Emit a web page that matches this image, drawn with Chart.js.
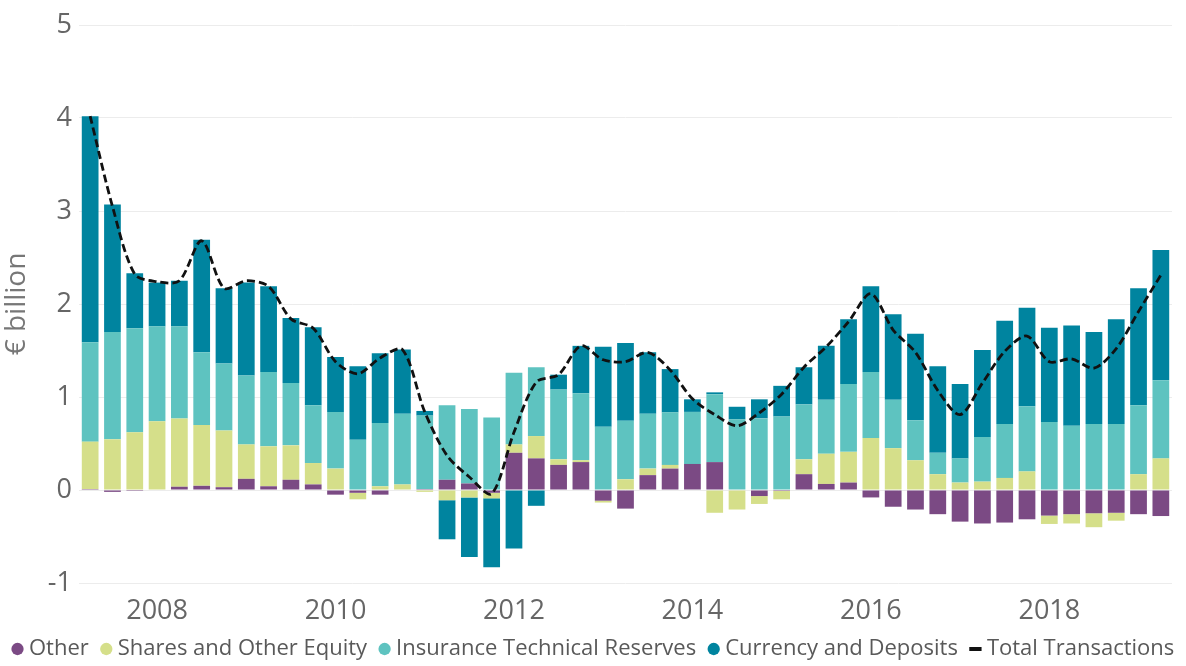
<!DOCTYPE html>
<html>
<head>
  <title>Household Financial Transactions</title>
  <script src="https://cdn.jsdelivr.net/npm/chart.js"></script>
  <style>
    body { margin: 0; background: #fff; }
    #wrap { width: 1186px; height: 666px; }
  </style>
</head>
<body>
  <div id="wrap"><canvas id="myChart" width="1186" height="666"></canvas></div>
  <script>
    // quarters 2007Q1 .. 2019Q1
    const quarters = [
      '2007Q1', '2007Q2', '2007Q3', '2007Q4', '2008Q1', '2008Q2', '2008Q3', '2008Q4',
      '2009Q1', '2009Q2', '2009Q3', '2009Q4', '2010Q1', '2010Q2', '2010Q3', '2010Q4',
      '2011Q1', '2011Q2', '2011Q3', '2011Q4', '2012Q1', '2012Q2', '2012Q3', '2012Q4',
      '2013Q1', '2013Q2', '2013Q3', '2013Q4', '2014Q1', '2014Q2', '2014Q3', '2014Q4',
      '2015Q1', '2015Q2', '2015Q3', '2015Q4', '2016Q1', '2016Q2', '2016Q3', '2016Q4',
      '2017Q1', '2017Q2', '2017Q3', '2017Q4', '2018Q1', '2018Q2', '2018Q3', '2018Q4',
      '2019Q1'
    ]
    // year labels sit under the last quarter of the previous year
    const yearTicks = { '2007Q4': '2008', '2009Q4': '2010', '2011Q4': '2012', '2013Q4': '2014', '2015Q4': '2016', '2017Q4': '2018' }

    const other = [0.01, -0.02, -0.01, 0.00, 0.035, 0.045, 0.03, 0.12, 0.04, 0.11, 0.06, -0.05,
      -0.03, -0.05, 0.00, 0.01, 0.11, 0.07, -0.03, 0.40, 0.34, 0.27, 0.30, -0.115,
      -0.20, 0.16, 0.23, 0.28, 0.30, 0.00, -0.065, -0.01, 0.17, 0.065, 0.08, -0.08,
      -0.18, -0.21, -0.26, -0.34, -0.36, -0.35, -0.315, -0.275, -0.26, -0.25, -0.245, -0.26, -0.28]
    const shares = [0.51, 0.545, 0.62, 0.74, 0.735, 0.655, 0.61, 0.37, 0.43, 0.37, 0.23, 0.23,
      -0.07, 0.04, 0.06, -0.02, -0.11, -0.08, -0.06, 0.09, 0.24, 0.06, 0.02, -0.02,
      0.115, 0.07, 0.04, 0.00, -0.245, -0.21, -0.085, -0.09, 0.16, 0.325, 0.33, 0.56,
      0.45, 0.32, 0.17, 0.08, 0.09, 0.13, 0.20, -0.09, -0.10, -0.15, -0.085, 0.17, 0.34]
    const insurance = [1.07, 1.155, 1.12, 1.02, 0.99, 0.78, 0.72, 0.74, 0.80, 0.67, 0.62, 0.61,
      0.54, 0.68, 0.76, 0.79, 0.80, 0.80, 0.78, 0.77, 0.74, 0.75, 0.72, 0.68,
      0.63, 0.59, 0.565, 0.56, 0.73, 0.76, 0.77, 0.79, 0.59, 0.58, 0.73, 0.71,
      0.52, 0.43, 0.23, 0.26, 0.48, 0.58, 0.70, 0.73, 0.69, 0.71, 0.71, 0.74, 0.84]
    const currency = [2.43, 1.37, 0.59, 0.47, 0.49, 1.21, 0.81, 1.00, 0.92, 0.70, 0.84, 0.59,
      0.79, 0.75, 0.69, 0.05, -0.42, -0.64, -0.74, -0.63, -0.17, 0.16, 0.51, 0.86,
      0.835, 0.66, 0.465, 0.135, 0.02, 0.135, 0.205, 0.33, 0.40, 0.58, 0.695, 0.92,
      0.92, 0.93, 0.93, 0.80, 0.935, 1.11, 1.06, 1.015, 1.08, 0.99, 1.125, 1.26, 1.40]
    const total = [4.02, 3.05, 2.32, 2.24, 2.25, 2.68, 2.17, 2.25, 2.19, 1.84, 1.74, 1.38,
      1.25, 1.42, 1.51, 0.84, 0.37, 0.14, -0.04, 0.62, 1.16, 1.24, 1.55, 1.40,
      1.38, 1.48, 1.29, 0.98, 0.81, 0.69, 0.83, 1.03, 1.32, 1.54, 1.81, 2.11,
      1.72, 1.48, 1.07, 0.81, 1.15, 1.49, 1.655, 1.38, 1.41, 1.31, 1.52, 1.92, 2.31]

    const font = "'Open Sans', 'Noto Sans', sans-serif"

    const bar = (label, data, color) => ({
      type: 'bar',
      label: label,
      data: data,
      backgroundColor: color,
      borderWidth: 0,
      barPercentage: 0.75,
      categoryPercentage: 1,
      stack: 'assets',
      order: 1
    })

    const ctx = document.getElementById('myChart').getContext('2d')
    const myChart = new Chart(ctx, {
      data: {
        labels: quarters,
        datasets: [
          bar('Other', other, '#7b4a84'),
          bar('Shares and Other Equity', shares, '#d5df8a'),
          bar('Insurance Technical Reserves', insurance, '#5ec3c0'),
          bar('Currency and Deposits', currency, '#00849f'),
          {
            type: 'line',
            label: 'Total Transactions',
            data: total,
            borderColor: '#111',
            borderWidth: 2.8,
            borderDash: [8, 4],
            tension: 0.3,
            pointRadius: 0,
            pointStyle: 'line',
            fill: false,
            stack: 'line',
            order: 0
          }
        ]
      },
      options: {
        responsive: false,
        animation: false,
        // negative right padding gives the one-row legend a little more room
        layout: { padding: { top: 25, right: -20, bottom: -4, left: 0 } },
        plugins: {
          tooltip: { enabled: false },
          legend: {
            position: 'bottom',
            align: 'start',
            labels: {
              usePointStyle: true,
              boxWidth: 1,
              boxHeight: 8.7,
              padding: 17,
              color: '#595959',
              font: { family: font, size: 22 },
              sort: (a, b) => a.datasetIndex - b.datasetIndex,
              generateLabels: chart => {
                const items = Chart.defaults.plugins.legend.labels.generateLabels(chart)
                items.forEach(item => {
                  if (item.pointStyle === 'line') {
                    item.lineDash = []
                    item.lineWidth = 4
                  }
                })
                return items
              }
            }
          }
        },
        scales: {
          x: {
            stacked: true,
            afterFit: scale => { scale.height = 38 },
            grid: { display: false },
            border: { display: false },
            ticks: {
              autoSkip: false,
              maxRotation: 0,
              padding: 4,
              color: '#666',
              font: { family: font, size: 27 },
              callback: function (value) {
                return yearTicks[this.getLabelForValue(value)] || ''
              }
            }
          },
          y: {
            min: -1,
            max: 5,
            stacked: true,
            afterFit: scale => { scale.width = 79 },
            grid: { color: '#ececec', drawTicks: false },
            border: { display: false },
            ticks: {
              stepSize: 1,
              padding: 7,
              color: '#666',
              font: { family: font, size: 27 }
            },
            title: {
              display: true,
              text: '€ billion',
              color: '#777',
              font: { family: font, size: 28 },
              padding: { top: 0, bottom: 0 }
            }
          },
          // empty strip on the right so the plot stops short of the edge
          y2: {
            axis: 'y',
            position: 'right',
            afterFit: scale => { scale.width = 34 },
            grid: { display: false },
            border: { display: false },
            ticks: { display: false }
          }
        }
      }
    })
  </script>
</body>
</html>
